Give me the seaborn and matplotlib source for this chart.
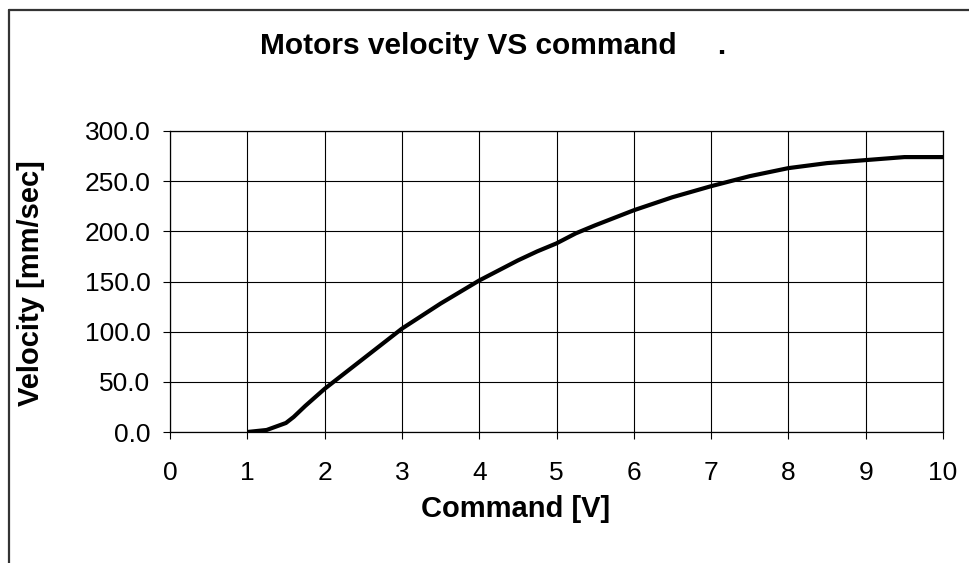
import matplotlib
matplotlib.use("Agg")
import matplotlib.pyplot as plt
from matplotlib.lines import Line2D
import seaborn as sns
import pandas as pd

command = [1.0, 1.25, 1.5, 1.6, 1.75, 2.0, 2.25, 2.5, 2.75, 3.0, 3.5, 4.0, 4.5, 4.75,
           5.0, 5.25, 5.5, 6.0, 6.5, 7.0, 7.5, 8.0, 8.5, 9.0, 9.5, 10.0]
velocity = [0.0, 2.0, 9.0, 15.0, 26.0, 43.0, 58.0, 73.0, 88.0, 103.0, 128.0, 151.0, 171.0, 180.0,
            188.0, 198.0, 206.0, 221.0, 234.0, 245.0, 255.0, 263.0, 268.0, 271.0, 274.0, 274.0]
x_ticks = list(range(0, 11))
y_ticks = [0, 50, 100, 150, 200, 250, 300]
y_tick_labels = ["0.0", "50.0", "100.0", "150.0", "200.0", "250.0", "300.0"]

df = pd.DataFrame({"Command": command, "Velocity": velocity})

sns.set_style("white")
plt.rcParams["font.family"] = ["Liberation Sans", "DejaVu Sans"]
plt.rcParams["text.color"] = "black"

fig = plt.figure(figsize=(9.7, 5.63), dpi=100)
ax = fig.add_axes([170 / 970, 1 - 432 / 563, (943 - 170) / 970, (432 - 131) / 563])

sns.lineplot(data=df, x="Command", y="Velocity", ax=ax, color="black", linewidth=3.0,
             solid_capstyle="butt")

ax.set_xlim(0, 10)
ax.set_ylim(0, 300)
ax.set_xticks(x_ticks)
ax.set_xticklabels([str(t) for t in x_ticks])
ax.set_yticks(y_ticks)
ax.set_yticklabels(y_tick_labels)
ax.grid(True, color="black", linewidth=0.8)
ax.set_axisbelow(True)
for s in ax.spines.values():
    s.set_visible(True)
    s.set_color("black")
    s.set_linewidth(0.9)
ax.tick_params(axis="both", direction="out", length=5, width=0.8, color="black",
               labelcolor="black", labelsize=19, bottom=True, left=True)
ax.tick_params(axis="y", pad=9)
ax.tick_params(axis="x", pad=16)
ax.set_xlabel("")
ax.set_ylabel("")

fig.text(493.5 / 970, 1 - 54 / 563, "Motors velocity VS command     .", ha="center", va="baseline",
         fontsize=21.5, fontweight="bold", color="black")
fig.text(516 / 970, 1 - 509 / 563, "Command [V]", ha="center", va="center",
         fontsize=21, fontweight="bold", color="black")
fig.text(31 / 970, 1 - 283 / 563, "Velocity [mm/sec]", ha="center", va="center",
         fontsize=21, fontweight="bold", rotation=90, color="black")

fx = 9.5 / 970
fy = 1 - 9.5 / 563
fig.add_artist(Line2D([fx, fx], [0, fy], transform=fig.transFigure, color="#333333", linewidth=1.6))
fig.add_artist(Line2D([fx, 1.0], [fy, fy], transform=fig.transFigure, color="#333333", linewidth=1.6))

fig.savefig("out.png", dpi=100, facecolor="white")
